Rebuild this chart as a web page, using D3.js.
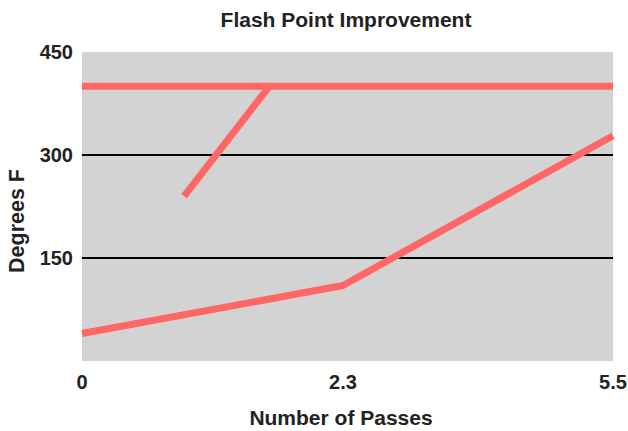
<!DOCTYPE html>
<html>
<head>
<meta charset="utf-8">
<script src="https://cdn.jsdelivr.net/npm/d3@7.9.0/dist/d3.min.js"></script>
<style>
  body { margin: 0; background: #fff; }
  text { font-family: "Liberation Sans", Arial, sans-serif; font-weight: bold; fill: #222; }
</style>
</head>
<body>
<svg id="chart" width="628" height="431"></svg>
<script>
// x positions (number of passes) and tick labels
const xTicks = [0, 2.3, 5.5];
const yTicks = [150, 300, 450];
const gridValues = [150, 300];

// series: flash point (degrees F)
const capX = [0, 5.5];
const capY = [400, 400];
const riseX = [0.9, 1.65];
const riseY = [240, 400];
const mainX = [0, 2.3, 5.5];
const mainY = [40, 110, 328];

const margin = { top: 52, right: 15, bottom: 70, left: 82 };
const width = 628 - margin.left - margin.right;
const height = 431 - margin.top - margin.bottom;

const svg = d3.select('#chart');
const g = svg.append('g').attr('transform', `translate(${margin.left},${margin.top})`);

const x = d3.scaleLinear().domain(xTicks).range([0, width * 0.4915, width]);
const y = d3.scaleLinear().domain([0, 450]).range([height, 0]);

g.append('rect')
  .attr('width', width)
  .attr('height', height)
  .attr('fill', '#d3d3d3');

g.selectAll('.grid')
  .data(gridValues)
  .enter().append('line')
  .attr('x1', 0).attr('x2', width)
  .attr('y1', d => y(d)).attr('y2', d => y(d))
  .attr('stroke', '#000')
  .attr('stroke-width', 2);

const line = d3.line().x(d => x(d[0])).y(d => y(d[1]));

[[capX, capY], [riseX, riseY], [mainX, mainY]].forEach(([xs, ys]) => {
  g.append('path')
    .attr('d', line(xs.map((v, i) => [v, ys[i]])))
    .attr('fill', 'none')
    .attr('stroke', '#ff6666')
    .attr('stroke-width', 7)
    .attr('stroke-linejoin', 'bevel');
});

// y tick labels
g.selectAll('.ytick')
  .data(yTicks)
  .enter().append('text')
  .attr('x', -9)
  .attr('y', d => y(d))
  .attr('dy', '0.35em')
  .attr('text-anchor', 'end')
  .attr('font-size', 20)
  .text(d => d);

// x tick labels
g.selectAll('.xtick')
  .data(xTicks)
  .enter().append('text')
  .attr('x', d => x(d))
  .attr('y', height + 28)
  .attr('text-anchor', 'middle')
  .attr('font-size', 20)
  .text(d => d);

svg.append('text')
  .attr('x', 346)
  .attr('y', 27)
  .attr('text-anchor', 'middle')
  .attr('font-size', 21)
  .text('Flash Point Improvement');

svg.append('text')
  .attr('x', 341)
  .attr('y', 425)
  .attr('text-anchor', 'middle')
  .attr('font-size', 21)
  .text('Number of Passes');

svg.append('text')
  .attr('transform', 'translate(24,221) rotate(-90)')
  .attr('text-anchor', 'middle')
  .attr('font-size', 21.5)
  .text('Degrees F');
</script>
</body>
</html>
